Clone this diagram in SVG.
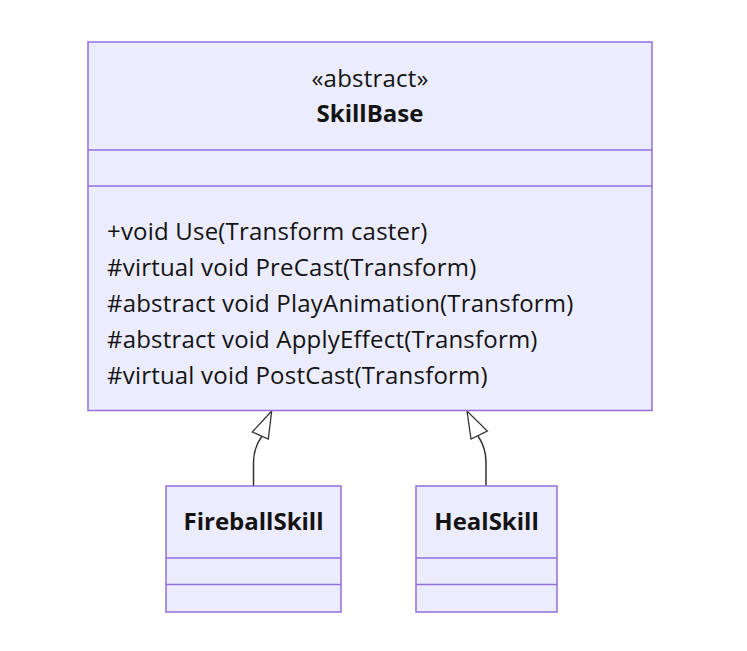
<svg xmlns="http://www.w3.org/2000/svg" width="747" height="651" viewBox="0 0 747 651">
<style>
.box{fill:#ECECFF;stroke:#9370DB;stroke-width:1.5}
.div{stroke:#9370DB;stroke-width:1.5;fill:none}
.t{font-family:"Open Sans","Noto Sans",sans-serif;font-size:24px;letter-spacing:0.2px;fill:#131313}
.b{font-weight:bold;letter-spacing:0}
.e{fill:none;stroke:#333;stroke-width:1.5}
.ah{fill:#fff;stroke:#333;stroke-width:1.3}
</style>
<rect width="747" height="651" fill="#fff"/>
<g id="connectors">
<path class="e" d="M253.5,486 L253.5,462 Q253.5,448 262,436"/>
<polygon class="ah" points="271.7,411 252.3,432 268.3,439"/>
<path class="e" d="M486,486 L486,462 Q486,448 478,436"/>
<polygon class="ah" points="467,411 471,439 487.3,431"/>
</g>
<g id="SkillBase">
<rect class="box" x="88" y="42" width="564" height="368.5"/>
<line class="div" x1="88" y1="150" x2="652" y2="150"/>
<line class="div" x1="88" y1="186" x2="652" y2="186"/>
<text class="t" x="370" y="86.5" text-anchor="middle">«abstract»</text>
<text class="t b" x="370" y="122" text-anchor="middle">SkillBase</text>
<text class="t" x="107" y="240">+void Use(Transform caster)</text>
<text class="t" x="107" y="276">#virtual void PreCast(Transform)</text>
<text class="t" x="107" y="312">#abstract void PlayAnimation(Transform)</text>
<text class="t" x="107" y="348">#abstract void ApplyEffect(Transform)</text>
<text class="t" x="107" y="384">#virtual void PostCast(Transform)</text>
</g>
<g id="FireballSkill">
<rect class="box" x="166" y="486" width="175" height="126"/>
<line class="div" x1="166" y1="558" x2="341" y2="558"/>
<line class="div" x1="166" y1="584.5" x2="341" y2="584.5"/>
<text class="t b" x="253.5" y="530" text-anchor="middle">FireballSkill</text>
</g>
<g id="HealSkill">
<rect class="box" x="416" y="486" width="141" height="126"/>
<line class="div" x1="416" y1="558" x2="557" y2="558"/>
<line class="div" x1="416" y1="584.5" x2="557" y2="584.5"/>
<text class="t b" x="486.5" y="530" text-anchor="middle">HealSkill</text>
</g>
</svg>
